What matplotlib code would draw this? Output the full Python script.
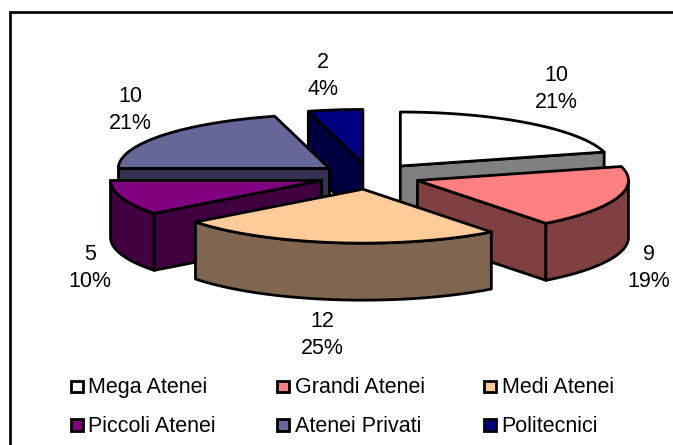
import numpy as np
import matplotlib
matplotlib.use("Agg")
import matplotlib.pyplot as plt
from matplotlib.patches import Polygon, Rectangle

names = ["Mega Atenei", "Grandi Atenei", "Medi Atenei",
         "Piccoli Atenei", "Atenei Privati", "Politecnici"]
values = [10, 9, 12, 5, 10, 2]
percents = [21, 19, 25, 10, 21, 4]
colors = ["#FFFFFF", "#FF8080", "#FFCC99", "#800080", "#666699", "#000080"]
sides = ["#808080", "#804040", "#806650", "#400040", "#333350", "#000040"]

W, H = 673, 445
cx, cy = 369.5, 176.3   # pie centre
rx, ry = 211, 54        # ellipse radii
depth = 57              # slice thickness
explode = 0.24

plt.rcParams["font.family"] = ["Liberation Sans"]

fig = plt.figure(figsize=(W / 100, H / 100), dpi=100)
ax = fig.add_axes([0, 0, 1, 1])
ax.set_xlim(0, W)
ax.set_ylim(H, 0)
ax.axis("off")

# frame only shows on the left and top
ax.plot([9.7, 9.7, W + 5], [H + 5, 12.3, 12.3], color="black", lw=1.95,
        solid_joinstyle="miter")


def arc(x0, y0, t0, t1):
    t = np.radians(np.linspace(t0, t1, max(int(abs(t1 - t0)) * 2, 2)))
    return np.column_stack([x0 + rx * np.sin(t), y0 - ry * np.cos(t)])


def draw_poly(pts, color, z):
    ax.add_patch(Polygon(pts, closed=True, facecolor=color, edgecolor="black",
                         lw=2.0, joinstyle="round", zorder=z))


# slice angles run clockwise from the top
edges = np.cumsum([0] + values) / sum(values) * 360
mids = (edges[:-1] + edges[1:]) / 2

# back slices first so the front ones overlap them
order = np.argsort(-np.cos(np.radians(mids)), kind="stable")

for z, i in enumerate(order):
    t0, t1 = edges[i], edges[i + 1]
    mid = np.radians(mids[i])
    x0 = cx + explode * rx * np.sin(mid)
    y0 = cy - explode * ry * np.cos(mid)
    top = arc(x0, y0, t0, t1)
    down = np.array([0, depth])
    apex = np.array([x0, y0])

    # radial walls facing the viewer
    if np.sin(np.radians(t0)) < -1e-6:
        draw_poly([apex, top[0], top[0] + down, apex + down], sides[i], z)
    if np.sin(np.radians(t1)) > 1e-6:
        draw_poly([apex, top[-1], top[-1] + down, apex + down], sides[i], z)

    # curved outer wall, front half of the ellipse only
    a, b = max(t0, 90), min(t1, 270)
    if b > a:
        rim = arc(x0, y0, a, b)
        draw_poly(np.vstack([rim, rim[::-1] + down]), sides[i], z)

    draw_poly(np.vstack([[apex], top]), colors[i], z + 0.5)

# value and percentage labels around the pie
label_pos = [(556, 89), (649, 268), (322, 335), (90, 268), (130, 110), (323, 76)]
for i, (lx, ly) in enumerate(label_pos):
    ax.text(lx, ly, f"{values[i]}\n{percents[i]}%", ha="center", va="center",
            fontsize=15.5, linespacing=1.42, color="black", zorder=20)

# legend, three columns by two rows
leg_x = [76.7, 283.3, 490]
leg_y = [386.3, 425]
base_y = [393.3, 432.3]
for i, name in enumerate(names):
    x = leg_x[i % 3]
    y = leg_y[i // 3]
    ax.add_patch(Rectangle((x - 6, y - 5.7), 12, 11.4, facecolor=colors[i],
                           edgecolor="black", lw=2.0, zorder=20))
    ax.text(x + 11.5, base_y[i // 3], name, ha="left", va="baseline",
            fontsize=15.5, zorder=20)

fig.savefig("out.png", dpi=100)
